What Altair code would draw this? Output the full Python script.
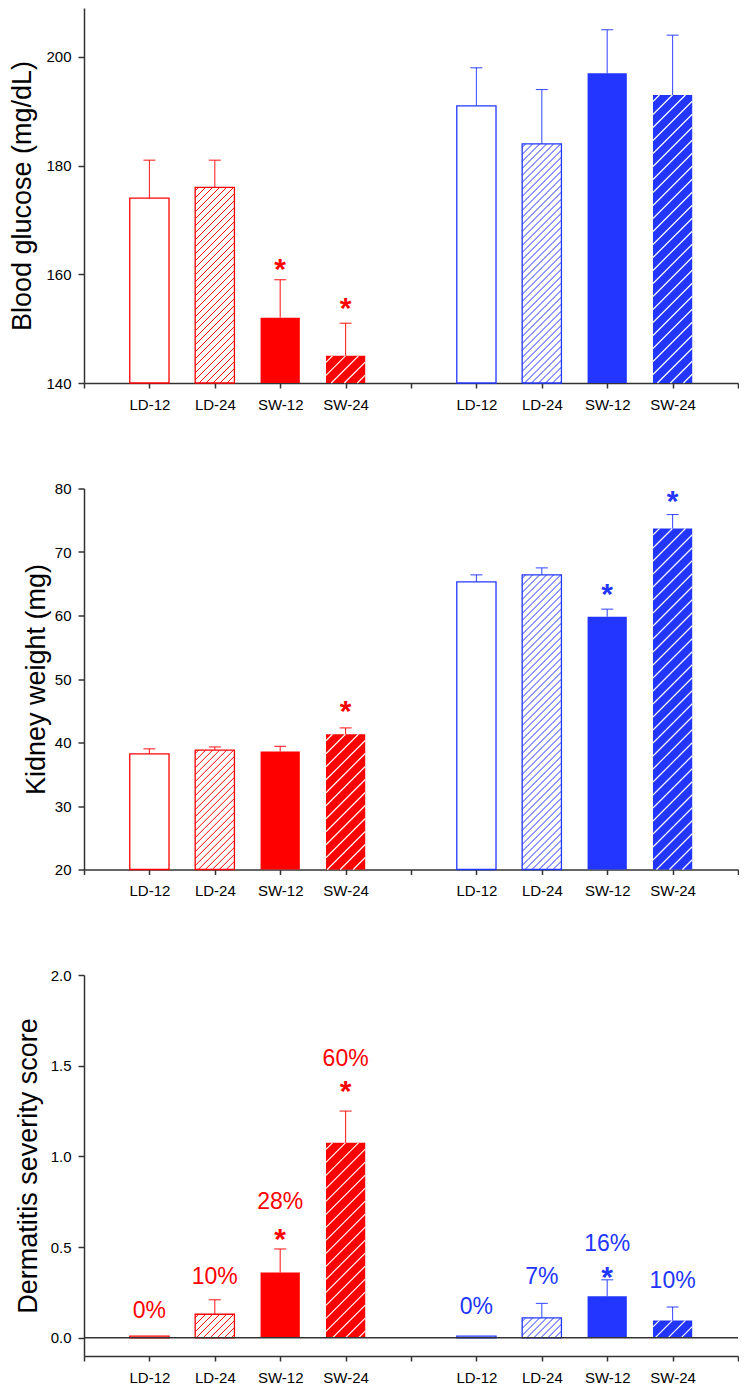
import altair as alt
import numpy as np
import pandas as pd

# ---------------- data ----------------
categories = ["LD-12", "LD-24", "SW-12", "SW-24"]
strains = ["strain_a", "strain_b"]
positions = [1, 2, 3, 4, 6, 7, 8, 9]
fills = ["open", "hatch", "solid", "solid_hatch"]

glucose_mean = [174, 176, 152, 145, 191, 184, 197, 193]
glucose_err = [7, 5, 7, 6, 7, 10, 8, 11]
glucose_star = [None, None, 162.3, 155.0, None, None, None, None]

kidney_mean = [38.2, 38.8, 38.6, 41.3, 65.3, 66.4, 59.8, 73.7]
kidney_err = [0.8, 0.5, 0.8, 1.0, 1.1, 1.1, 1.2, 2.2]
kidney_star = [None, None, None, 46.1, None, None, 64.5, 79.2]

derm_mean = [0.01, 0.13, 0.36, 1.075, 0.01, 0.11, 0.23, 0.096]
derm_err = [0, 0.08, 0.13, 0.175, 0, 0.08, 0.09, 0.074]
derm_star = [None, None, 0.585, 1.40, None, None, 0.373, None]
derm_pct = ["0%", "10%", "28%", "60%", "0%", "7%", "16%", "10%"]
derm_pct_y = [0.149, 0.336, 0.747, 1.537, 0.171, 0.336, 0.52, 0.314]

# ---------------- style ----------------
RED = "#ff0000"
BLUE = "#2236ff"
AXIS = "#333333"
FONT = "Liberation Sans"
PLOT_W = 654
X_DOMAIN = [0, 10]
BAR_HALF = 0.3
CAP_HALF_PX = 6

color_scale = alt.Scale(domain=strains, range=[RED, BLUE])

label_expr = (
    "indexof(" + str(positions) + ", datum.value) >= 0 ? "
    + str(categories * 2) + "[indexof(" + str(positions) + ", datum.value)] : ''"
)


def x_enc(field):
    return alt.X(
        field,
        type="quantitative",
        scale=alt.Scale(domain=X_DOMAIN, nice=False, zero=False),
        axis=alt.Axis(
            values=list(range(X_DOMAIN[0], X_DOMAIN[1] + 1)),
            labelExpr=label_expr,
            title=None,
            grid=False,
            tickSize=5,
            tickWidth=1.5,
            tickColor=AXIS,
            domainColor=AXIS,
            domainWidth=1.5,
            labelFontSize=15,
            labelFont=FONT,
            labelColor="#000000",
            labelPadding=9,
            labelFlush=False,
            labelOverlap=False,
        ),
    )


def panel(mean, err, star, domain, height, ticks, fmt, title, title_pad,
          pct=None, pct_y=None, zero_line=False):
    base = 0 if zero_line else domain[0]
    n = len(mean)
    df = pd.DataFrame({
        "pos": positions,
        "strain": [strains[i // 4] for i in range(n)],
        "fill": [fills[i % 4] for i in range(n)],
        "mean": mean,
        "err": err,
        "top": [m + e for m, e in zip(mean, err)],
        "star": star,
    })
    df["base"] = base
    df["x0"] = df["pos"] - BAR_HALF
    df["x1"] = df["pos"] + BAR_HALF
    px_x = PLOT_W / (X_DOMAIN[1] - X_DOMAIN[0])
    px_y = height / (domain[1] - domain[0])
    cap = CAP_HALF_PX / px_x
    df["c0"] = df["pos"] - cap
    df["c1"] = df["pos"] + cap
    if pct is not None:
        df["pct"] = pct
        df["pct_y"] = pct_y

    # hatch segments (45 degrees in screen space), clipped to each bar
    segs = []
    for _, r in df.iterrows():
        if r["fill"] not in ("hatch", "solid_hatch"):
            continue
        spacing = 7.0 if r["fill"] == "hatch" else 13.0
        W = 2 * BAR_HALF * px_x
        H = (r["mean"] - base) * px_y
        for c in np.arange(-H + spacing / 2, W, spacing):
            u0, u1 = max(0.0, c), min(W, H + c)
            if u1 - u0 < 0.5:
                continue
            segs.append({
                "strain": r["strain"], "fill": r["fill"],
                "hx": r["x0"] + u0 / px_x, "hx2": r["x0"] + u1 / px_x,
                "hy": base + (u0 - c) / px_y, "hy2": base + (u1 - c) / px_y,
            })
    hdf = pd.DataFrame(segs)

    y_scale = alt.Scale(domain=domain, nice=False, zero=False)

    def y_enc(field):
        return alt.Y(
            field, type="quantitative", scale=y_scale,
            axis=alt.Axis(
                values=ticks, format=fmt, title=title, grid=False,
                tickSize=6, tickWidth=1.5, tickColor=AXIS,
                domainColor=AXIS, domainWidth=1.5,
                labelFontSize=15, labelFont=FONT, labelColor="#000000",
                labelPadding=7, labelFlush=False,
                titleFontSize=27, titleFont=FONT, titleFontWeight="normal",
                titleColor="#000000", titlePadding=title_pad,
            ),
        )

    col = alt.Color("strain:N", scale=color_scale, legend=None)
    stroke = alt.Stroke("strain:N", scale=color_scale, legend=None)

    base_chart = alt.Chart(df)
    open_fill = base_chart.transform_filter(
        alt.FieldOneOfPredicate(field="fill", oneOf=["open", "hatch"])
    ).mark_rect(fill="white").encode(
        x=x_enc("x0"), x2="x1", y=y_enc("mean"), y2="base"
    )
    solid_fill = base_chart.transform_filter(
        alt.FieldOneOfPredicate(field="fill", oneOf=["solid", "solid_hatch"])
    ).mark_rect().encode(
        x=x_enc("x0"), x2="x1", y=y_enc("mean"), y2="base",
        fill=alt.Fill("strain:N", scale=color_scale, legend=None)
    )
    hatch_col = alt.Chart(hdf).transform_filter(
        alt.datum.fill == "hatch"
    ).mark_rule(strokeWidth=1).encode(
        x=x_enc("hx"), x2="hx2", y=y_enc("hy"), y2="hy2", color=col
    )
    hatch_white = alt.Chart(hdf).transform_filter(
        alt.datum.fill == "solid_hatch"
    ).mark_rule(strokeWidth=1.2, color="white").encode(
        x=x_enc("hx"), x2="hx2", y=y_enc("hy"), y2="hy2"
    )
    outline = base_chart.transform_filter(
        alt.FieldOneOfPredicate(field="fill", oneOf=["open", "hatch"])
    ).mark_rect(fillOpacity=0, strokeWidth=1.3).encode(
        x=x_enc("x0"), x2="x1", y=y_enc("mean"), y2="base", stroke=stroke
    )
    err_line = base_chart.transform_filter(alt.datum.err > 0).mark_rule(
        strokeWidth=1.1, opacity=0.85
    ).encode(x=x_enc("pos"), y=y_enc("mean"), y2="top", color=col)
    err_cap = base_chart.transform_filter(alt.datum.err > 0).mark_rule(
        strokeWidth=1.1, opacity=0.85
    ).encode(x=x_enc("c0"), x2="c1", y=y_enc("top"), color=col)
    stars = base_chart.transform_filter("isValid(datum.star)").mark_text(
        text="*", fontSize=30, fontWeight="bold", font=FONT, baseline="middle", dy=8
    ).encode(x=x_enc("pos"), y=y_enc("star"), color=col)

    layers = [open_fill, solid_fill, hatch_col, hatch_white, outline, err_line, err_cap, stars]
    if pct is not None:
        layers.append(
            base_chart.mark_text(fontSize=23, font=FONT, baseline="middle").encode(
                x=x_enc("pos"), y=y_enc("pct_y"), text="pct:N", color=col
            )
        )
    if zero_line:
        layers.append(
            alt.Chart(pd.DataFrame({"z": [0]})).mark_rule(color=AXIS, strokeWidth=1.5).encode(
                y=y_enc("z")
            )
        )
    return alt.layer(*layers).properties(width=PLOT_W, height=height)


p1 = panel(glucose_mean, glucose_err, glucose_star, [140, 209], 375,
           [140, 160, 180, 200], "d", "Blood glucose (mg/dL)", 9)
p2 = panel(kidney_mean, kidney_err, kidney_star, [20, 80], 381,
           [20, 30, 40, 50, 60, 70, 80], "d", "Kidney weight (mg)", 4)
p3 = panel(derm_mean, derm_err, derm_star, [-0.1, 2.0], 381,
           [0, 0.5, 1.0, 1.5, 2.0], ".1f", "Dermatitis severity score", 8,
           pct=derm_pct, pct_y=derm_pct_y, zero_line=True)

chart = alt.vconcat(p1, p2, p3, spacing=105.5, bounds="flush").properties(
    padding={"left": 0, "top": 0, "right": 0, "bottom": 0}
).configure(
    background="white", view=alt.ViewConfig(stroke=None)
)

chart.save("out.html", embed_options={"renderer": "svg", "actions": False})
